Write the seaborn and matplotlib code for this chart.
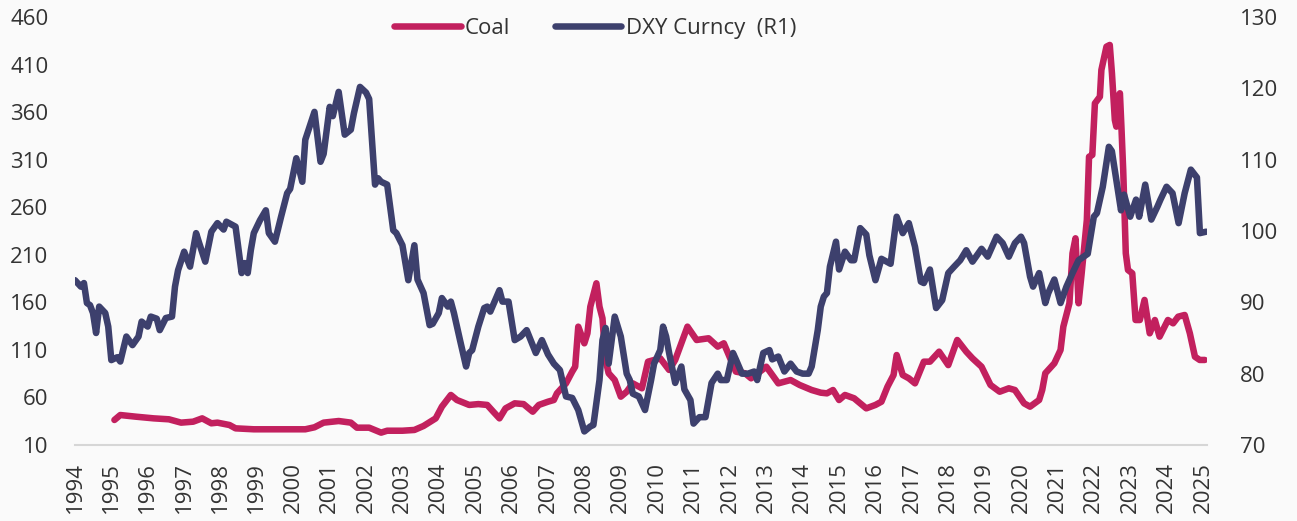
import pandas as pd
import matplotlib
matplotlib.use("Agg")
import matplotlib.pyplot as plt
import matplotlib.dates as mdates
from matplotlib.lines import Line2D
import seaborn as sns

# DXY index (right axis)
dxy_dates = [
    "1994-01", "1994-03", "1994-04", "1994-05", "1994-06", "1994-07", "1994-08", "1994-09", "1994-11", "1994-12",
    "1995-01", "1995-03", "1995-04", "1995-06", "1995-08", "1995-10", "1995-11",
    "1996-01", "1996-02", "1996-04", "1996-05", "1996-07", "1996-09", "1996-10", "1996-11",
    "1997-01", "1997-03", "1997-05", "1997-06", "1997-08", "1997-10", "1997-12",
    "1998-02", "1998-03", "1998-06", "1998-08", "1998-09", "1998-10", "1998-11", "1998-12",
    "1999-02", "1999-04", "1999-05", "1999-07", "1999-09", "1999-11", "1999-12",
    "2000-02", "2000-04", "2000-05", "2000-08", "2000-10", "2000-11",
    "2001-01", "2001-02", "2001-04", "2001-06", "2001-08", "2001-09", "2001-11",
    "2002-01", "2002-02", "2002-04", "2002-05", "2002-06", "2002-08", "2002-10", "2002-11",
    "2003-01", "2003-03", "2003-05", "2003-06", "2003-08", "2003-10", "2003-11",
    "2004-01", "2004-02", "2004-04", "2004-05", "2004-06", "2004-08", "2004-10", "2004-11", "2004-12",
    "2005-02", "2005-04", "2005-05", "2005-06", "2005-09", "2005-10", "2005-12",
    "2006-02", "2006-04", "2006-06", "2006-09", "2006-11",
    "2007-01", "2007-03", "2007-05", "2007-07", "2007-09", "2007-11",
    "2008-01", "2008-03", "2008-04", "2008-06", "2008-07", "2008-08", "2008-09", "2008-11",
    "2009-01", "2009-03", "2009-04", "2009-05", "2009-07", "2009-09", "2009-11", "2009-12",
    "2010-02", "2010-03", "2010-04", "2010-05", "2010-07", "2010-09", "2010-10", "2010-12",
    "2011-01", "2011-03", "2011-05", "2011-07", "2011-09", "2011-10", "2011-12",
    "2012-02", "2012-03", "2012-05", "2012-07", "2012-09", "2012-10", "2012-12",
    "2013-02", "2013-03", "2013-05", "2013-07", "2013-09", "2013-11",
    "2014-01", "2014-03", "2014-04", "2014-06", "2014-07", "2014-08", "2014-09", "2014-10", "2014-12",
    "2015-01", "2015-03", "2015-05", "2015-06", "2015-08", "2015-10", "2015-11",
    "2016-01", "2016-03", "2016-06", "2016-08", "2016-10", "2016-12",
    "2017-02", "2017-04", "2017-05", "2017-07", "2017-09", "2017-11",
    "2018-01", "2018-03", "2018-05", "2018-07", "2018-09", "2018-12",
    "2019-02", "2019-05", "2019-07", "2019-09", "2019-11",
    "2020-01", "2020-02", "2020-04", "2020-05", "2020-07", "2020-09", "2020-10", "2020-12",
    "2021-02", "2021-04", "2021-06", "2021-08", "2021-11",
    "2022-01", "2022-02", "2022-04", "2022-06", "2022-07", "2022-10", "2022-11",
    "2023-01", "2023-03", "2023-04", "2023-06", "2023-08", "2023-10", "2023-11",
    "2024-01", "2024-03", "2024-05", "2024-07", "2024-09", "2024-11", "2024-12",
    "2025-02",
]
dxy_values = [
    93.1, 92.2, 92.7, 89.9, 89.6, 88.5, 85.7, 89.4, 88.5, 86.6,
    81.9, 82.3, 81.7, 85.2, 84.0, 85.2, 87.3,
    86.6, 88.0, 87.7, 86.1, 87.8, 88.0, 92.2, 94.5,
    97.1, 95.0, 99.7, 98.3, 95.7, 99.9, 101.1,
    100.2, 101.3, 100.6, 94.1, 95.5, 94.1, 97.3, 99.7,
    101.5, 102.9, 99.7, 98.5, 102.0, 105.3, 105.9,
    110.2, 106.9, 112.8, 116.7, 109.7, 110.8,
    117.4, 116.1, 119.5, 113.5, 114.2, 116.5, 120.2,
    119.4, 118.5, 106.5, 107.4, 106.9, 106.5, 100.1, 99.7,
    98.0, 93.1, 98.0, 93.2, 91.3, 86.8, 87.0,
    88.5, 90.6, 89.4, 90.1, 88.5, 84.7, 81.0, 82.9, 83.3,
    86.6, 89.2, 89.4, 88.7, 91.7, 90.1, 90.1,
    84.7, 85.2, 86.1, 82.9, 84.7,
    82.7, 81.4, 80.5, 76.8, 76.6, 74.9,
    71.9, 72.6, 72.8, 79.1, 84.7, 86.4, 81.4, 88.0,
    85.2, 80.0, 79.1, 77.2, 76.8, 74.9, 79.1, 81.4,
    83.3, 86.6, 85.2, 82.9, 78.7, 81.0, 77.8, 76.3,
    73.0, 73.9, 73.9, 78.7, 80.0, 79.1, 79.1,
    82.9, 82.0, 80.0, 80.0, 80.3, 79.1, 82.9,
    83.3, 82.0, 82.4, 80.3, 81.4, 80.3,
    80.0, 80.0, 81.0, 86.1, 89.4, 90.8, 91.3, 95.0, 98.5,
    94.6, 97.1, 95.9, 95.9, 100.4, 99.5, 96.6,
    93.1, 96.1, 95.4, 102.0, 99.7, 101.1,
    97.8, 92.9, 92.7, 94.6, 89.2, 90.3,
    94.1, 95.0, 95.9, 97.3, 95.7, 97.5,
    96.4, 99.2, 98.3, 96.4, 98.3,
    99.2, 98.3, 93.6, 92.2, 94.1, 89.9, 91.3, 93.2,
    89.9, 92.2, 94.1, 95.9, 96.8,
    102.0, 102.5, 106.2, 111.8, 111.2, 102.9, 105.1,
    102.0, 104.4, 102.0, 106.5, 101.6, 103.4, 104.4,
    106.2, 105.3, 101.1, 105.3, 108.6, 107.5, 99.7,
    99.9,
]

# Coal price (left axis)
coal_dates = [
    "1995-02", "1995-04", "1995-09", "1996-03", "1996-08", "1996-12",
    "1997-04", "1997-07", "1997-10", "1997-12", "1998-04", "1998-06", "1998-12",
    "1999-08", "2000-05", "2000-08", "2000-11", "2001-04", "2001-08", "2001-10",
    "2002-02", "2002-06", "2002-08", "2003-01", "2003-05", "2003-08", "2003-12",
    "2004-02", "2004-05", "2004-07", "2004-11", "2005-02", "2005-05", "2005-07", "2005-09", "2005-11",
    "2006-02", "2006-05", "2006-08", "2006-10", "2007-01", "2007-03", "2007-04", "2007-07", "2007-09",
    "2007-10", "2007-11", "2008-01", "2008-02", "2008-03", "2008-05", "2008-06", "2008-07", "2008-08",
    "2008-09", "2008-11", "2009-01", "2009-03", "2009-05", "2009-08", "2009-10",
    "2010-02", "2010-05", "2010-07", "2010-11", "2011-02", "2011-06", "2011-09", "2011-11",
    "2012-03", "2012-06", "2012-08", "2013-01", "2013-05", "2013-09", "2013-12",
    "2014-04", "2014-07", "2014-09", "2014-11", "2015-01", "2015-03", "2015-06", "2015-08", "2015-10",
    "2016-01", "2016-03", "2016-05", "2016-07", "2016-08", "2016-10", "2016-12",
    "2017-02", "2017-05", "2017-07", "2017-10", "2018-01", "2018-04", "2018-07", "2018-09", "2018-12",
    "2019-03", "2019-06", "2019-09", "2019-11", "2020-02", "2020-04", "2020-07", "2020-08", "2020-09",
    "2020-12", "2021-02", "2021-03", "2021-05", "2021-06", "2021-07", "2021-08", "2021-09",
    "2021-10-23", "2021-11-14", "2021-12-17", "2022-01-12", "2022-03-03", "2022-03-18", "2022-05-08",
    "2022-06-10", "2022-07-02", "2022-07-31", "2022-08-15", "2022-09-02", "2022-09-20", "2022-10-05",
    "2022-10-23", "2022-11-18", "2022-12-10", "2023-01-22", "2023-02-24", "2023-04-08", "2023-05-25",
    "2023-07-16", "2023-09-06", "2023-10-23", "2024-01-15", "2024-03-07", "2024-04-27", "2024-07-01",
    "2024-08-22", "2024-10-12", "2024-11-29", "2025-01-19",
]
coal_values = [
    36.3, 41.5, 39.8, 38.0, 37.0, 33.5,
    34.5, 38.0, 32.8, 33.5, 31.0, 27.5, 26.5,
    26.5, 26.5, 28.6, 33.5, 35.2, 33.5, 28.2,
    28.2, 23.0, 25.0, 25.0, 25.8, 30.0, 38.0,
    50.3, 62.6, 57.3, 52.1, 53.0, 52.1, 45.0, 38.0, 48.5,
    53.8, 53.0, 45.0, 52.1, 55.5, 57.3, 64.3, 74.8, 87.1,
    92.3, 134.4, 116.9, 127.4, 155.4, 180.0, 155.4, 143.2, 99.4,
    85.4, 78.3, 60.8, 66.0, 74.8, 69.6, 97.6,
    101.1, 88.9, 99.4, 134.4, 120.4, 122.2, 113.4, 116.9,
    87.1, 85.4, 80.1, 92.3, 74.8, 78.3, 73.1,
    67.8, 65.0, 64.3, 67.8, 57.3, 62.6, 59.1, 53.8, 48.5,
    52.1, 55.5, 71.3, 83.6, 104.6, 83.6, 80.1,
    74.8, 97.6, 97.6, 108.1, 94.0, 120.4, 108.1, 101.1, 92.3,
    73.1, 66.0, 69.6, 67.8, 53.8, 50.3, 57.3, 67.8, 85.4,
    95.9, 109.9, 134.4, 159.0, 211.5, 227.3, 159.0, 190.5,
    246.6, 313.1, 314.9, 369.2, 376.2, 404.3, 428.8,
    430.6, 400.8, 351.7, 344.7, 376.2, 379.8, 344.7,
    299.1, 211.5, 194.0, 190.5, 141.4, 141.4, 162.5,
    127.4, 141.4, 123.9, 141.4, 137.9, 144.9, 146.7,
    127.4, 102.8, 99.4, 99.4,
]

left_ticks = list(range(10, 461, 50))
right_ticks = list(range(70, 131, 10))

coal_color = "#c2205e"
dxy_color = "#3d406d"
bg = "#fafafa"
text_color = "#333333"

sns.set_theme(style="white")
plt.rcParams["font.family"] = ["Open Sans", "DejaVu Sans"]

coal = pd.DataFrame({"date": pd.to_datetime(coal_dates, format="ISO8601"), "value": coal_values})
dxy = pd.DataFrame({"date": pd.to_datetime(dxy_dates, format="ISO8601"), "value": dxy_values})

fig = plt.figure(figsize=(12.97, 5.21), dpi=100, facecolor=bg)
ax = fig.add_axes([0.0578, 0.1459, 0.8728, 0.8215])
ax.set_facecolor(bg)
ax2 = ax.twinx()

sns.lineplot(data=coal, x="date", y="value", ax=ax, color=coal_color, lw=4.7,
             solid_joinstyle="round", solid_capstyle="round", legend=False)
sns.lineplot(data=dxy, x="date", y="value", ax=ax2, color=dxy_color, lw=4.7,
             solid_joinstyle="round", solid_capstyle="round", legend=False)

ax.set_xlim(pd.Timestamp("1994-01-01"), pd.Timestamp("2025-02-10"))
ax.set_ylim(10, 460)
ax.set_yticks(left_ticks)
ax2.set_ylim(70, 130)
ax2.set_yticks(right_ticks)

ax.xaxis.set_major_locator(mdates.YearLocator())
ax.xaxis.set_major_formatter(mdates.DateFormatter("%Y"))

for a in (ax, ax2):
    a.set_xlabel("")
    a.set_ylabel("")
    for s in a.spines.values():
        s.set_visible(False)
ax.spines["bottom"].set_visible(True)
ax.spines["bottom"].set_color("#d6d6d6")
ax.spines["bottom"].set_linewidth(1.5)

ax.tick_params(axis="x", rotation=90, length=0, pad=12, labelsize=16, labelcolor=text_color)
ax.tick_params(axis="y", length=0, pad=19, labelsize=16, labelcolor=text_color)
ax2.tick_params(axis="y", length=0, pad=24, labelsize=16, labelcolor=text_color)
ax.grid(False)
ax2.grid(False)

handles = [Line2D([0], [0], color=coal_color, lw=4.7, solid_capstyle="round"),
           Line2D([0], [0], color=dxy_color, lw=4.7, solid_capstyle="round")]
fig.legend(handles, ["Coal", "DXY Curncy  (R1)"], loc="center", bbox_to_anchor=(0.4588, 0.946),
           ncol=2, frameon=False, fontsize=16, handlelength=3.0, handletextpad=0.2,
           columnspacing=2.0, borderpad=0, labelcolor=text_color)

fig.savefig("out.png", dpi=100, facecolor=bg)
